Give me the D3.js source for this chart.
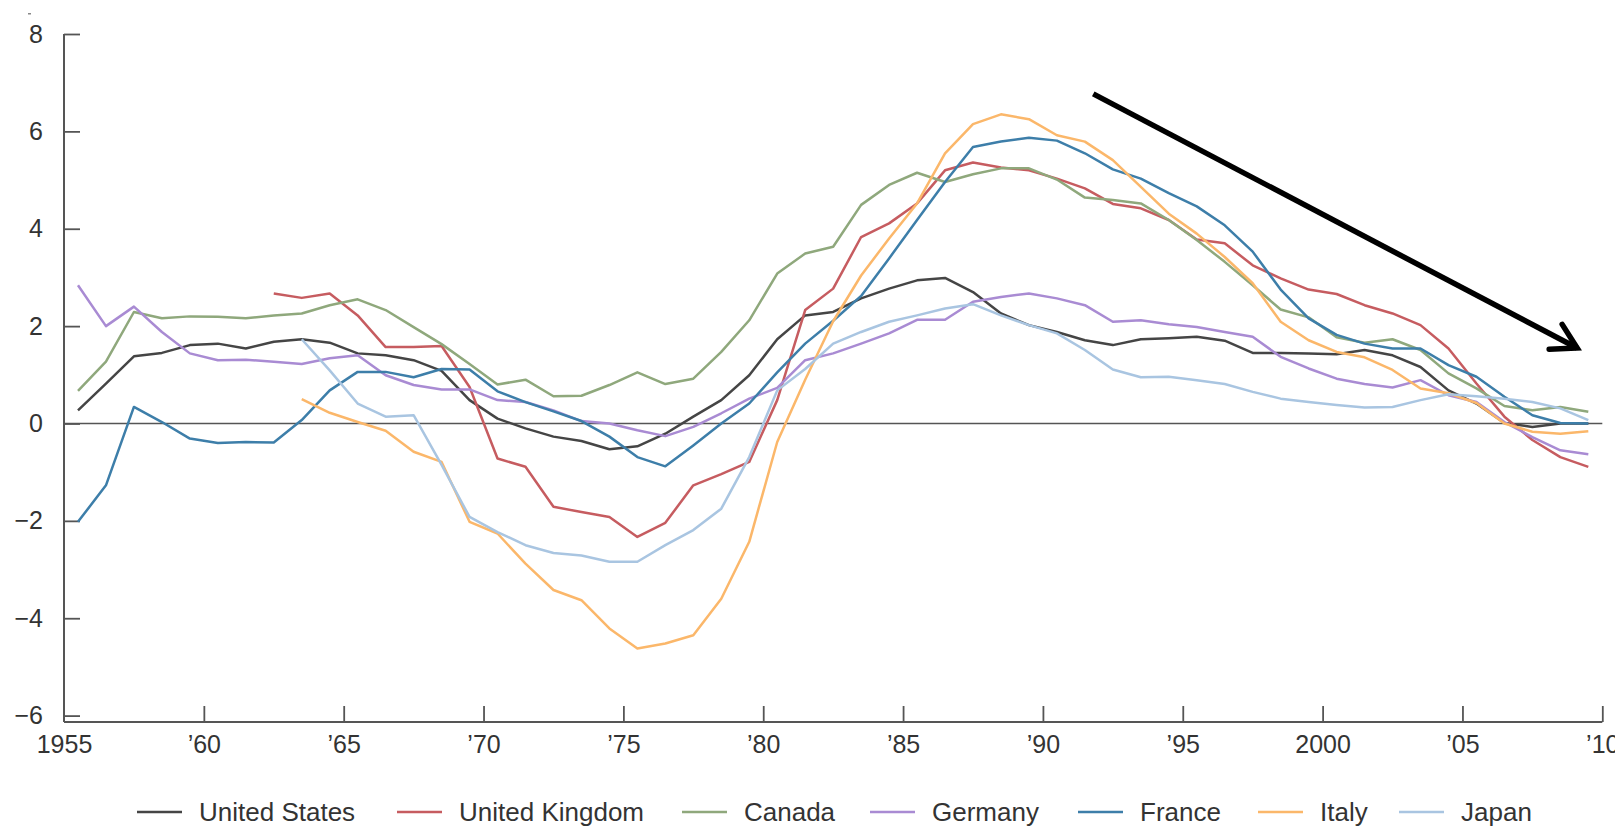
<!DOCTYPE html>
<html>
<head>
<meta charset="utf-8">
<script src="https://cdn.jsdelivr.net/npm/d3@7"></script>
<style>
  body { margin: 0; background: #fff; }
  svg { display: block; font-family: "Liberation Sans", Arial, Helvetica, sans-serif; }
  .tick text { fill: #333; }
</style>
</head>
<body>
<div id="chart"></div>
<script>
// Years 1955..2009, values plotted at mid-year
const years = d3.range(1955, 2010);

const countries = ["United States", "United Kingdom", "Canada", "Germany", "France", "Italy", "Japan"];
const colors = ["#454545", "#c65c60", "#8fa87c", "#a98bd3", "#3d7ea9", "#fbb76a", "#a9c5e1"];

const unitedStates = [0.27, 0.82, 1.38, 1.45, 1.61, 1.64, 1.54, 1.68, 1.73, 1.66,
  1.44, 1.40, 1.30, 1.08, 0.48, 0.10, -0.10, -0.27, -0.36, -0.53,
  -0.47, -0.21, 0.14, 0.48, 0.99, 1.73, 2.22, 2.29, 2.57, 2.77,
  2.94, 2.99, 2.70, 2.26, 2.02, 1.88, 1.71, 1.61, 1.73, 1.75,
  1.78, 1.70, 1.45, 1.45, 1.44, 1.42, 1.51, 1.40, 1.16, 0.68,
  0.41, 0.01, -0.07, 0.00, 0.00];

const unitedKingdom = [null, null, null, null, null, null, null, 2.67, 2.58, 2.67,
  2.22, 1.57, 1.57, 1.59, 0.75, -0.72, -0.89, -1.71, -1.82, -1.92,
  -2.33, -2.04, -1.27, -1.04, -0.79, 0.48, 2.33, 2.77, 3.83, 4.11,
  4.52, 5.20, 5.36, 5.26, 5.20, 5.03, 4.83, 4.51, 4.42, 4.18,
  3.78, 3.70, 3.25, 2.98, 2.75, 2.66, 2.43, 2.26, 2.02, 1.54,
  0.82, 0.14, -0.34, -0.69, -0.89];

const canada = [0.67, 1.27, 2.29, 2.16, 2.20, 2.19, 2.16, 2.22, 2.26, 2.43,
  2.55, 2.33, 1.98, 1.63, 1.22, 0.80, 0.90, 0.56, 0.57, 0.79,
  1.05, 0.81, 0.92, 1.47, 2.12, 3.08, 3.49, 3.63, 4.49, 4.90,
  5.15, 4.96, 5.12, 5.24, 5.24, 5.01, 4.64, 4.59, 4.52, 4.18,
  3.77, 3.32, 2.84, 2.34, 2.18, 1.77, 1.66, 1.73, 1.51, 1.03,
  0.72, 0.36, 0.27, 0.34, 0.24];

const germany = [2.84, 2.00, 2.40, 1.88, 1.44, 1.30, 1.31, 1.27, 1.22, 1.34,
  1.40, 0.99, 0.79, 0.70, 0.70, 0.48, 0.44, 0.27, 0.05, 0.00,
  -0.14, -0.26, -0.07, 0.21, 0.51, 0.73, 1.30, 1.44, 1.64, 1.85,
  2.13, 2.13, 2.50, 2.60, 2.67, 2.57, 2.43, 2.09, 2.12, 2.04,
  1.98, 1.88, 1.78, 1.37, 1.13, 0.92, 0.81, 0.74, 0.89, 0.58,
  0.44, 0.03, -0.28, -0.55, -0.63];

const france = [-2.02, -1.27, 0.34, 0.03, -0.31, -0.40, -0.38, -0.39, 0.07, 0.68,
  1.06, 1.06, 0.95, 1.12, 1.11, 0.66, 0.44, 0.25, 0.05, -0.27,
  -0.69, -0.88, -0.45, 0.00, 0.41, 1.05, 1.64, 2.11, 2.62, 3.39,
  4.18, 4.96, 5.68, 5.79, 5.87, 5.81, 5.55, 5.22, 5.03, 4.73,
  4.46, 4.07, 3.53, 2.75, 2.16, 1.82, 1.64, 1.54, 1.54, 1.20,
  0.96, 0.55, 0.17, 0.01, 0.00];

const italy = [null, null, null, null, null, null, null, null, 0.50, 0.22,
  0.03, -0.15, -0.58, -0.79, -2.02, -2.26, -2.88, -3.42, -3.63, -4.21,
  -4.62, -4.52, -4.35, -3.60, -2.43, -0.38, 0.90, 2.10, 3.04, 3.80,
  4.52, 5.55, 6.15, 6.35, 6.25, 5.92, 5.79, 5.41, 4.86, 4.31,
  3.90, 3.42, 2.88, 2.09, 1.71, 1.47, 1.36, 1.10, 0.72, 0.62,
  0.42, 0.00, -0.17, -0.21, -0.16];

const japan = [null, null, null, null, null, null, null, null, 1.73, 1.09,
  0.41, 0.14, 0.17, -0.85, -1.92, -2.23, -2.50, -2.66, -2.71, -2.84,
  -2.84, -2.50, -2.19, -1.75, -0.69, 0.68, 1.12, 1.64, 1.88, 2.09,
  2.22, 2.36, 2.45, 2.22, 2.02, 1.85, 1.51, 1.11, 0.95, 0.96,
  0.89, 0.81, 0.65, 0.51, 0.44, 0.38, 0.33, 0.34, 0.48, 0.60,
  0.56, 0.51, 0.44, 0.31, 0.07];

const seriesValues = [unitedStates, unitedKingdom, canada, germany, france, italy, japan];

const xTickYears = [1955, 1960, 1965, 1970, 1975, 1980, 1985, 1990, 1995, 2000, 2005, 2010];
const xTickLabels = ["1955", "\u201960", "\u201965", "\u201970", "\u201975", "\u201980", "\u201985", "\u201990", "\u201995", "2000", "\u201905", "\u201910"];
const yTicks = [8, 6, 4, 2, 0, -2, -4, -6];

// Trend arrow annotation (year, value)
const arrowFrom = [1991.8, 6.77];
const arrowTo = [2009.1, 1.55];

const width = 1615, height = 828;
const svg = d3.select("#chart").append("svg")
    .attr("width", width)
    .attr("height", height);

const x = d3.scaleLinear().domain([1955, 2010]).range([64, 1602.3]);
const y = d3.scaleLinear().domain([-6, 8]).range([715.6, 34]);
const axisY = 722;

// y axis
const yAxis = svg.append("g")
    .attr("transform", `translate(${x(1955)},0)`)
    .call(d3.axisLeft(y).tickValues(yTicks).tickSize(-16).tickPadding(21)
        .tickFormat(d => d < 0 ? "\u2212" + Math.abs(d) : d));
yAxis.select(".domain").remove();
yAxis.selectAll(".tick line").attr("stroke", "#555").attr("stroke-width", 1.8);
yAxis.selectAll(".tick text").attr("font-size", 25).attr("font-family", "Liberation Sans, Arial, sans-serif");

// x axis
const xAxis = svg.append("g")
    .attr("transform", `translate(0,${axisY})`)
    .call(d3.axisBottom(x).tickValues(xTickYears).tickSize(-16).tickPadding(13)
        .tickFormat((d, i) => xTickLabels[i]));
xAxis.select(".domain").remove();
xAxis.selectAll(".tick line").attr("stroke", "#555").attr("stroke-width", 1.8);
xAxis.selectAll(".tick text").attr("font-size", 25).attr("font-family", "Liberation Sans, Arial, sans-serif");
xAxis.selectAll(".tick").filter(d => d === 1955).select("line").remove();

// axis lines
svg.append("line")
    .attr("x1", x(1955)).attr("x2", x(1955))
    .attr("y1", y(8)).attr("y2", axisY)
    .attr("stroke", "#555").attr("stroke-width", 2);
svg.append("line")
    .attr("x1", x(1955)).attr("x2", x(2010))
    .attr("y1", axisY).attr("y2", axisY)
    .attr("stroke", "#555").attr("stroke-width", 2);

// zero line
svg.append("line")
    .attr("x1", x(1955)).attr("x2", x(2010))
    .attr("y1", y(0)).attr("y2", y(0))
    .attr("stroke", "#555").attr("stroke-width", 1.6);

// series
const line = d3.line()
    .defined(d => d.v !== null)
    .x(d => x(d.year + 0.5))
    .y(d => y(d.v));

countries.forEach((name, i) => {
    const pts = years.map((yr, j) => ({ year: yr, v: seriesValues[i][j] }));
    svg.append("path")
        .datum(pts)
        .attr("fill", "none")
        .attr("stroke", colors[i])
        .attr("stroke-width", 2.5)
        .attr("stroke-linejoin", "round")
        .attr("d", line);
});

// arrow annotation
const ax0 = x(arrowFrom[0]), ay0 = y(arrowFrom[1]);
const ax1 = x(arrowTo[0]), ay1 = y(arrowTo[1]);
const ang = Math.atan2(ay1 - ay0, ax1 - ax0);
const headLen = 28, headAng = Math.PI / 6;
svg.append("line")
    .attr("x1", ax0).attr("y1", ay0)
    .attr("x2", ax1).attr("y2", ay1)
    .attr("stroke", "#000").attr("stroke-width", 5.5);
svg.append("path")
    .attr("d", `M${ax1 - headLen * Math.cos(ang - headAng)},${ay1 - headLen * Math.sin(ang - headAng)}` +
               `L${ax1},${ay1}` +
               `L${ax1 - headLen * Math.cos(ang + headAng)},${ay1 - headLen * Math.sin(ang + headAng)}`)
    .attr("fill", "none")
    .attr("stroke", "#000")
    .attr("stroke-width", 5.5)
    .attr("stroke-linecap", "round")
    .attr("stroke-linejoin", "miter");

// small stray mark top-left
svg.append("rect").attr("x", 28).attr("y", 13).attr("width", 3).attr("height", 1.5).attr("fill", "#888");

// legend
const legendX = [137, 397, 682, 870, 1078, 1258, 1399];
const legend = svg.append("g").attr("transform", "translate(0,812)");
countries.forEach((name, i) => {
    legend.append("line")
        .attr("x1", legendX[i]).attr("x2", legendX[i] + 45)
        .attr("y1", 0).attr("y2", 0)
        .attr("stroke", colors[i]).attr("stroke-width", 2.5);
    legend.append("text")
        .attr("x", legendX[i] + 62)
        .attr("y", 0)
        .attr("dy", "0.36em")
        .attr("font-size", 26)
        .attr("fill", "#333")
        .text(name);
});
</script>
</body>
</html>
